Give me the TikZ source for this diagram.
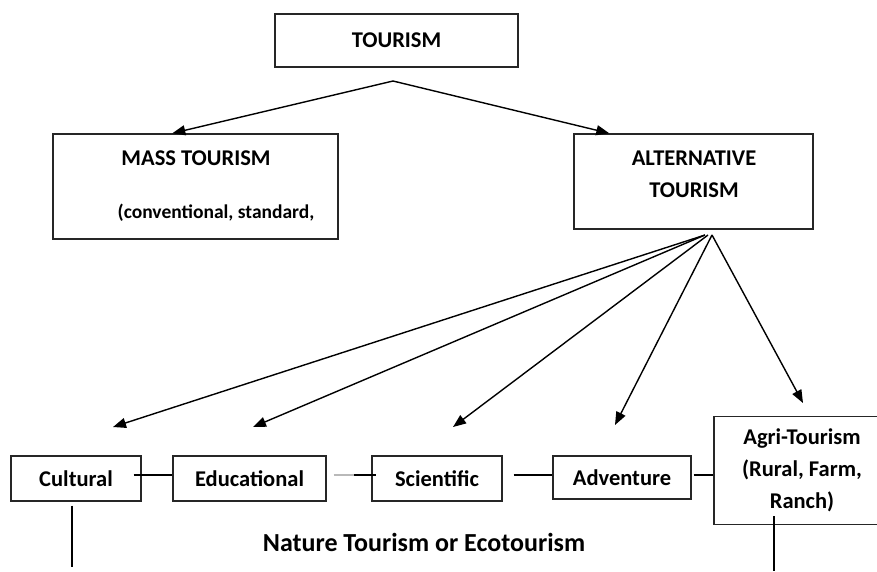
\documentclass[tikz,border=0pt]{standalone}
\usepackage{fontspec}
\setmainfont{Carlito}
\usetikzlibrary{arrows.meta}
\begin{document}
\begin{tikzpicture}[x=1pt,y=-1pt,
  box/.style={draw=black!85, line width=1.4pt, inner sep=0pt, font=\fontsize{22.5}{32}\selectfont\bfseries, align=center},
  lbl/.style={inner sep=0pt, font=\fontsize{22.5}{32}\selectfont\bfseries, align=center},
  arr/.style={line width=1.4pt, -{Triangle[length=13pt,width=10pt]}},
  ln/.style={line width=1.4pt}]
\useasboundingbox (0,0) rectangle (877,571);
% top level
\node[box, minimum width=243, minimum height=53] (tour) at (396.5,40.5) {TOURISM};
\node[box, minimum width=285, minimum height=105] (mass) at (195.5,186.5) {};
\node[lbl] (masst) at (196,158) {MASS TOURISM};
\node[lbl, font=\fontsize{19.5}{32}\selectfont\bfseries] (massc) at (216,213) {(conventional, standard,};
\node[box, minimum width=239, minimum height=95] (alt) at (693.5,181.5) {};
\node[lbl] (altt) at (694,174) {ALTERNATIVE\\TOURISM};
% bottom row
\node[box, minimum width=130, minimum height=45] (cul) at (76,478.5) {Cultural};
\node[box, minimum width=153, minimum height=45] (edu) at (249.5,478.5) {Educational};
\node[box, minimum width=130, minimum height=45] (sci) at (437,478.5) {Scientific};
\node[box, minimum width=138, minimum height=43] (adv) at (622,477.5) {Adventure};
\node[box, minimum width=176, minimum height=108] (agri) at (802,470.5) {Agri-Tourism\\(Rural, Farm,\\Ranch)};
\node[lbl, font=\fontsize{26}{32}\selectfont\bfseries] (nature) at (424,542) {Nature Tourism or Ecotourism};
% coordinates
\coordinate (tapex) at (393,81);
\coordinate (fan) at (712,235);
\coordinate (tcul) at (113,427);
\coordinate (tedu) at (253,427);
\coordinate (tsci) at (453,427);
\coordinate (tadv) at (615,425);
\coordinate (tagri) at (803,403);
\coordinate (culend) at (72,567);
\coordinate (agriend) at (774,571);
% arrows
\draw[arr] (tapex) -- ([xshift=120pt]mass.north west);
\draw[arr] (tapex) -- ([xshift=36pt]alt.north west);
\draw[arr] ([xshift=-7pt]fan) -- (tcul);
\draw[arr] ([xshift=-7pt]fan) -- (tedu);
\draw[arr] ([xshift=-4pt]fan) -- (tsci);
\draw[arr] (fan) -- (tadv);
\draw[arr] (fan) -- (tagri);
% row connectors
\draw[ln] ([xshift=-8pt,yshift=3.5pt]cul.east) -- ([yshift=3.5pt]edu.west);
\draw[ln, gray!55] ([xshift=7pt,yshift=3.5pt]edu.east) -- ([xshift=-17pt,yshift=3.5pt]sci.west);
\draw[ln] ([xshift=-17pt,yshift=3.5pt]sci.west) -- ([xshift=5pt,yshift=3.5pt]sci.west);
\draw[ln] ([xshift=11pt,yshift=3.5pt]sci.east) -- ([yshift=2.5pt]adv.west);
\draw[ln] ([xshift=2pt,yshift=2.5pt]adv.east) -- ([yshift=-4.5pt]agri.west);
% verticals
\draw[ln] ([xshift=-4pt,yshift=-4pt]cul.south) -- (culend);
\draw[ln] ([xshift=-28pt,yshift=9pt]agri.south) -- (agriend);
\end{tikzpicture}
\end{document}
